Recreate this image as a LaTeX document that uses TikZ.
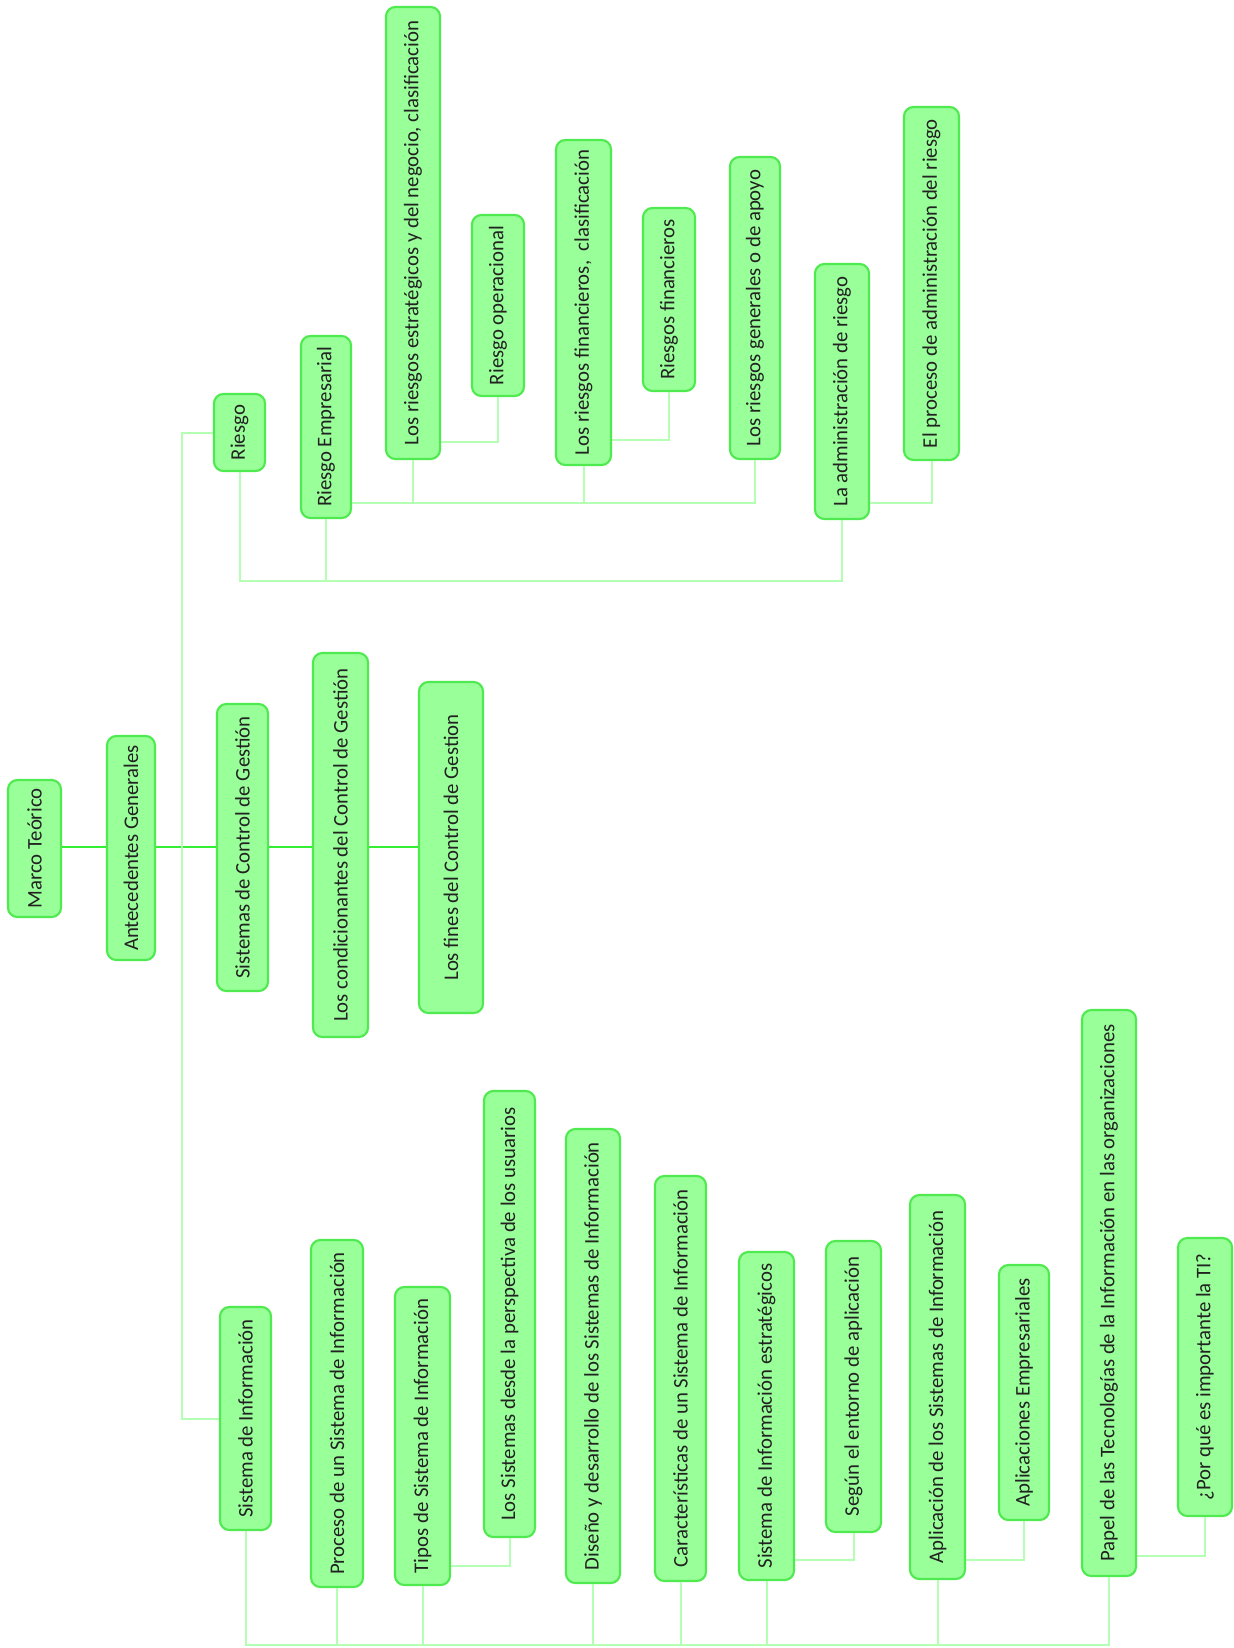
\documentclass[tikz,border=0pt]{standalone}
\usepackage{fontspec}
\usepackage{graphicx}
\setmainfont{Carlito}
\definecolor{fillg}{HTML}{99FF99}
\definecolor{bordg}{HTML}{4FEA4F}
\definecolor{maing}{HTML}{33EE33}
\definecolor{paleg}{HTML}{B5FFB5}
\definecolor{txt}{HTML}{222222}
\tikzset{
  box/.style={draw=bordg, fill=fillg, line width=1.6pt, rounded corners=7pt, inner sep=0pt, text=txt, font=\fontsize{15.6}{17}\selectfont},
  mainln/.style={draw=maing, line width=1.3pt},
  paleln/.style={draw=paleg, line width=1.5pt}
}
\newcommand{\bx}[6]{\node[box, minimum width={(#4-#2)*0.75pt}, minimum height={(#5-#3)*0.75pt}] (#1) at ({(#2+#4)/2},{(#3+#5)/2}) {\rotatebox{90}{#6}};}
\begin{document}
\begin{tikzpicture}[x=0.75pt,y=-0.75pt]
\fill[white] (0,0) rectangle (1233,1648);
\useasboundingbox (0,0) rectangle (1233,1648);
% coordinates for buses
\coordinate (tk) at (182,847);
\coordinate (rb) at (0,581);
\coordinate (r2) at (0,503);
\coordinate (sb) at (0,1645);
% nodes
\bx{marco}{8}{780}{61}{917}{Marco Teórico}
\bx{ante}{107}{736}{155}{960}{Antecedentes Generales}
\bx{riesgo}{214}{394}{265}{471}{Riesgo}
\bx{sdc}{217}{704}{268}{991}{Sistemas de Control de Gestión}
\bx{cond}{313}{653}{368}{1037}{Los condicionantes del Control de Gestión}
\bx{fines}{419}{682}{483}{1013}{Los fines del Control de Gestion}
\bx{re}{301}{336}{351}{518}{Riesgo Empresarial}
\bx{est}{386}{7}{440}{459}{Los riesgos estratégicos y del negocio, clasificación}
\bx{oper}{472}{215}{524}{396}{Riesgo operacional}
\bx{fin}{556}{140}{611}{465}{Los riesgos financieros,\ \ clasificación}
\bx{rfin}{643}{208}{695}{391}{Riesgos financieros}
\bx{gen}{730}{157}{780}{459}{Los riesgos generales o de apoyo}
\bx{ladmin}{815}{264}{869}{519}{La administración de riesgo}
\bx{proceso}{904}{107}{959}{460}{El proceso de administración del riesgo}
\bx{si}{220}{1307}{271}{1530}{Sistema de Información}
\bx{proc}{311}{1240}{363}{1587}{Proceso de un Sistema de Información}
\bx{tipos}{395}{1287}{450}{1585}{Tipos de Sistema de Información}
\bx{persp}{484}{1091}{535}{1537}{Los Sistemas desde la perspectiva de los usuarios}
\bx{diseno}{566}{1129}{620}{1583}{Diseño y desarrollo de los Sistemas de Información}
\bx{caract}{655}{1176}{706}{1581}{Características de un Sistema de Información}
\bx{siest}{739}{1252}{794}{1580}{Sistema de Información estratégicos}
\bx{segun}{826}{1241}{881}{1532}{Según el entorno de aplicación}
\bx{aplic}{910}{1195}{965}{1579}{Aplicación de los Sistemas de Información}
\bx{aemp}{999}{1265}{1049}{1520}{Aplicaciones Empresariales}
\bx{papel}{1082}{1010}{1136}{1576}{Papel de las Tecnologías de la Información en las organizaciones}
\bx{porque}{1178}{1238}{1232}{1516}{¿Por qué es importante la TI?}
% main spine
\draw[mainln] (marco.east |- tk) -- (ante.west |- tk);
\draw[mainln] (ante.east |- tk) -- (sdc.west |- tk);
\draw[mainln] (sdc.east |- tk) -- (cond.west |- tk);
\draw[mainln] (cond.east |- tk) -- (fines.west |- tk);
% trunk
\draw[paleln] (riesgo.west) -| (tk) |- (si.west);
% riesgo group
\draw[paleln] (riesgo.south) -- (riesgo.south |- rb) -| (ladmin.south);
\draw[paleln] (re.south) -- (re.south |- rb);
\draw[paleln] (re.east |- r2) -| (gen.south);
\draw[paleln] (est.south) -- (est.south |- r2);
\draw[paleln] (fin.south) -- (fin.south |- r2);
\coordinate (e1) at (0,442);
\draw[paleln] (est.east |- e1) -| (oper.south);
\coordinate (e2) at (0,440);
\draw[paleln] (fin.east |- e2) -| (rfin.south);
\draw[paleln] (ladmin.east |- r2) -| (proceso.south);
% SI group
\draw[paleln] (si.south) -- (si.south |- sb) -| (papel.south);
\foreach \n in {proc,tipos,diseno,caract,siest,aplic}{
  \draw[paleln] (\n.south) -- (\n.south |- sb);
}
\coordinate (s1) at (0,1566);
\draw[paleln] (tipos.east |- s1) -| (persp.south);
\coordinate (s2) at (0,1560);
\draw[paleln] (siest.east |- s2) -| (segun.south);
\draw[paleln] (aplic.east |- s2) -| (aemp.south);
\coordinate (s3) at (0,1556);
\draw[paleln] (papel.east |- s3) -| (porque.south);
\end{tikzpicture}
\end{document}
